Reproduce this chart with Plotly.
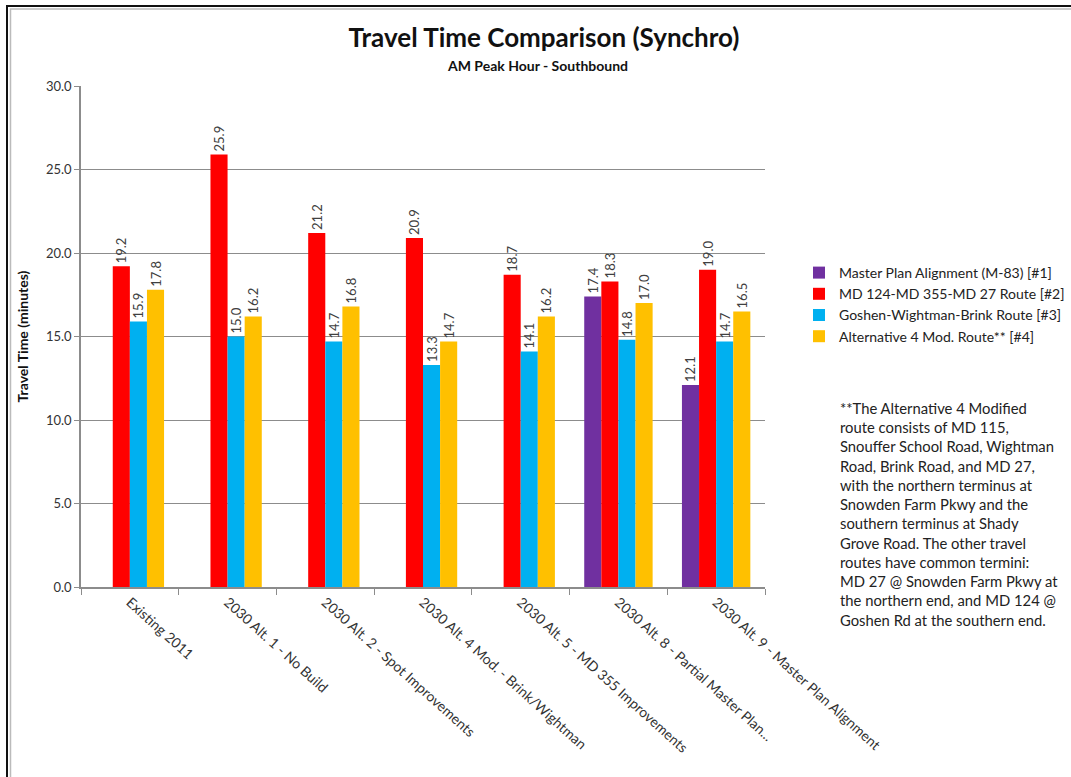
import plotly.graph_objects as go

categories = ["Existing 2011", "2030 Alt. 1 - No Build", "2030 Alt. 2 - Spot Improvements",
              "2030 Alt. 4 Mod. - Brink/Wightman", "2030 Alt. 5 - MD 355 Improvements",
              "2030 Alt. 8 - Partial Master Plan...", "2030 Alt. 9 - Master Plan Alignment"]
series_names = ["Master Plan Alignment (M-83) [#1]", "MD 124-MD 355-MD 27 Route [#2]",
                "Goshen-Wightman-Brink Route [#3]", "Alternative 4 Mod. Route** [#4]"]
master_plan = [None, None, None, None, None, 17.4, 12.1]
md124 = [19.2, 25.9, 21.2, 20.9, 18.7, 18.3, 19.0]
goshen = [15.9, 15.0, 14.7, 13.3, 14.1, 14.8, 14.7]
alt4 = [17.8, 16.2, 16.8, 14.7, 16.2, 17.0, 16.5]
colors = ["#7030A0", "#FF0000", "#00B0F0", "#FFC000"]

note = ("**The Alternative 4 Modified<br>route consists of MD 115,<br>Snouffer School Road, Wightman<br>"
        "Road, Brink Road, and MD 27,<br>with the northern terminus at<br>Snowden Farm Pkwy and the<br>"
        "southern terminus at Shady<br>Grove Road. The other travel<br>routes have common termini:<br>"
        "MD 27 @ Snowden Farm Pkwy at<br>the northern end, and MD 124 @<br>Goshen Rd at the southern end.")

font = "Lato, Open Sans, sans-serif"
W, H = 1071, 777
L, R, T, B = 81, 306, 86, 190
pw, ph = W - L - R, H - T - B


def px(x):
    return (x - L) / pw


def py(y):
    return (H - B - y) / ph


fig = go.Figure()
for name, vals, c in zip(series_names, [master_plan, md124, goshen, alt4], colors):
    fig.add_trace(go.Bar(
        x=categories, y=vals, name=name, marker=dict(color=c, line=dict(width=0)),
        text=[f"{v:.1f}" if v is not None else "" for v in vals],
        textposition="outside", textangle=-90, cliponaxis=False, constraintext="none",
        textfont=dict(size=13, color="#404040", family=font),
    ))

fig.update_layout(
    width=W, height=H,
    margin=dict(l=L, r=R, t=T, b=B, autoexpand=False),
    paper_bgcolor="white", plot_bgcolor="white",
    barmode="group", bargap=0.3, bargroupgap=0,
    font=dict(family=font, color="#222"),
    showlegend=True,
    legend=dict(x=px(799), y=py(257), xanchor="left", yanchor="top",
                bgcolor="rgba(0,0,0,0)",
                font=dict(size=14, color="#222", family=font),
                itemsizing="constant", traceorder="normal"),
    title=dict(text="<b>Travel Time Comparison (Synchro)</b>", x=px(544), xref="paper", xanchor="center",
               y=(H - 38) / H, yanchor="middle", font=dict(size=26, color="#111", family=font)),
    xaxis=dict(tickangle=42, tickfont=dict(size=14, color="#333", family=font),
               showline=True, linecolor="#8c8c8c", linewidth=1.5,
               ticks="outside", tickson="boundaries", ticklen=6, tickcolor="#8c8c8c",
               showgrid=False),
    yaxis=dict(range=[0, 30], dtick=5, tickformat=".1f",
               tickfont=dict(size=13, color="#333", family=font),
               showgrid=True, gridcolor="#8c8c8c", gridwidth=1.2,
               showline=True, linecolor="#8c8c8c", linewidth=1.5,
               ticks="outside", ticklen=5, tickcolor="#8c8c8c",
               title=dict(text="<b>Travel Time (minutes)</b>", font=dict(size=14, color="#111", family=font),
                          standoff=14),
               zeroline=False),
)
fig.add_annotation(text="<b>AM Peak Hour - Southbound</b>", xref="paper", yref="paper",
                   x=px(537), y=py(65), xanchor="center", yanchor="middle", showarrow=False,
                   font=dict(size=14, color="#111", family=font))
fig.add_annotation(text=note, xref="paper", yref="paper", x=px(838), y=py(397),
                   xanchor="left", yanchor="top", align="left", showarrow=False,
                   font=dict(size=14.8, color="#222", family=font))
fig.add_shape(type="rect", xref="paper", yref="paper",
              x0=px(7), x1=px(1100), y0=py(820), y1=py(6),
              line=dict(color="#111", width=2), fillcolor="rgba(0,0,0,0)", layer="below")
fig.add_shape(type="rect", xref="paper", yref="paper",
              x0=px(10.5), x1=px(1100), y0=py(820), y1=py(9),
              line=dict(color="#bbbbbb", width=1.5), fillcolor="rgba(0,0,0,0)", layer="below")
fig.write_html("out.html")
